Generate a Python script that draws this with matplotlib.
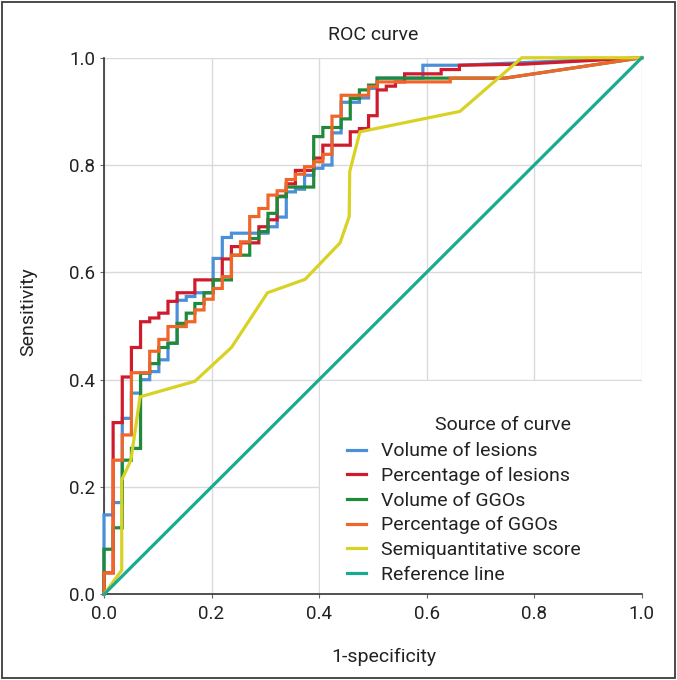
import matplotlib.pyplot as plt
from matplotlib.patches import Rectangle

plt.rcParams['font.family'] = ['Roboto', 'DejaVu Sans']

# ROC curve corner points (1-specificity, sensitivity)
vol_les_x = [0, 0, 0.017, 0.017, 0.034, 0.034, 0.051, 0.051, 0.068, 0.068, 0.085, 0.085,
             0.102, 0.102, 0.119, 0.119, 0.136, 0.136, 0.153, 0.153, 0.169, 0.169, 0.203, 0.203,
             0.220, 0.220, 0.237, 0.237, 0.305, 0.305, 0.322, 0.322, 0.339, 0.339, 0.356, 0.356,
             0.373, 0.373, 0.390, 0.390, 0.407, 0.407, 0.424, 0.424, 0.441, 0.441, 0.475, 0.475,
             0.492, 0.492, 0.508, 0.508, 0.593, 0.593, 0.661, 1.0]
vol_les_y = [0, 0.148, 0.148, 0.171, 0.171, 0.328, 0.328, 0.375, 0.375, 0.400, 0.400, 0.415,
             0.415, 0.437, 0.437, 0.468, 0.468, 0.548, 0.548, 0.555, 0.555, 0.562, 0.562, 0.626,
             0.626, 0.665, 0.665, 0.673, 0.673, 0.685, 0.685, 0.703, 0.703, 0.750, 0.750, 0.755,
             0.755, 0.781, 0.781, 0.794, 0.794, 0.800, 0.800, 0.860, 0.860, 0.917, 0.917, 0.925,
             0.925, 0.943, 0.943, 0.962, 0.962, 0.986, 0.986, 1.0]

pct_les_x = [0, 0, 0.017, 0.017, 0.034, 0.034, 0.051, 0.051, 0.068, 0.068, 0.085, 0.085,
             0.102, 0.102, 0.119, 0.119, 0.136, 0.136, 0.169, 0.169, 0.220, 0.220, 0.237, 0.237,
             0.254, 0.254, 0.288, 0.288, 0.305, 0.305, 0.322, 0.322, 0.339, 0.339, 0.356, 0.356,
             0.390, 0.390, 0.407, 0.407, 0.458, 0.458, 0.475, 0.475, 0.492, 0.492, 0.508, 0.508,
             0.525, 0.525, 0.542, 0.542, 0.559, 0.559, 0.627, 0.627, 0.661, 0.661, 0.780, 1.0]
pct_les_y = [0, 0.040, 0.040, 0.320, 0.320, 0.405, 0.405, 0.460, 0.460, 0.508, 0.508, 0.515,
             0.515, 0.524, 0.524, 0.546, 0.546, 0.562, 0.562, 0.586, 0.586, 0.625, 0.625, 0.648,
             0.648, 0.655, 0.655, 0.685, 0.685, 0.698, 0.698, 0.742, 0.742, 0.765, 0.765, 0.790,
             0.790, 0.813, 0.813, 0.837, 0.837, 0.862, 0.862, 0.868, 0.868, 0.892, 0.892, 0.940,
             0.940, 0.947, 0.947, 0.955, 0.955, 0.970, 0.970, 0.978, 0.978, 0.986, 0.988, 1.0]

vol_ggo_x = [0, 0, 0.017, 0.017, 0.034, 0.034, 0.051, 0.051, 0.068, 0.068, 0.085, 0.085,
             0.102, 0.102, 0.119, 0.119, 0.136, 0.136, 0.153, 0.153, 0.169, 0.169, 0.186, 0.186,
             0.203, 0.203, 0.237, 0.237, 0.271, 0.271, 0.288, 0.288, 0.305, 0.305, 0.322, 0.322,
             0.339, 0.339, 0.390, 0.390, 0.407, 0.407, 0.441, 0.441, 0.458, 0.458, 0.475, 0.475,
             0.492, 0.492, 0.508, 0.508, 0.746, 1.0]
vol_ggo_y = [0, 0.084, 0.084, 0.124, 0.124, 0.250, 0.250, 0.272, 0.272, 0.412, 0.412, 0.430,
             0.430, 0.460, 0.460, 0.468, 0.468, 0.505, 0.505, 0.524, 0.524, 0.542, 0.542, 0.562,
             0.562, 0.586, 0.586, 0.632, 0.632, 0.663, 0.663, 0.676, 0.676, 0.710, 0.710, 0.741,
             0.741, 0.759, 0.759, 0.853, 0.853, 0.870, 0.870, 0.886, 0.886, 0.924, 0.924, 0.940,
             0.940, 0.949, 0.949, 0.962, 0.962, 1.0]

pct_ggo_x = [0, 0, 0.017, 0.017, 0.034, 0.034, 0.051, 0.051, 0.085, 0.085, 0.102, 0.102,
             0.119, 0.119, 0.153, 0.153, 0.169, 0.169, 0.186, 0.186, 0.203, 0.203, 0.220, 0.220,
             0.237, 0.237, 0.254, 0.254, 0.271, 0.271, 0.288, 0.288, 0.305, 0.305, 0.322, 0.322,
             0.339, 0.339, 0.356, 0.356, 0.373, 0.373, 0.390, 0.390, 0.407, 0.407, 0.424, 0.424,
             0.441, 0.441, 0.492, 0.492, 0.508, 0.508, 0.644, 0.644, 0.746, 1.0]
pct_ggo_y = [0, 0.040, 0.040, 0.250, 0.250, 0.297, 0.297, 0.413, 0.413, 0.453, 0.453, 0.475,
             0.475, 0.499, 0.499, 0.508, 0.508, 0.530, 0.530, 0.550, 0.550, 0.570, 0.570, 0.592,
             0.592, 0.632, 0.632, 0.657, 0.657, 0.704, 0.704, 0.719, 0.719, 0.744, 0.744, 0.752,
             0.752, 0.773, 0.773, 0.783, 0.783, 0.797, 0.797, 0.806, 0.806, 0.820, 0.820, 0.891,
             0.891, 0.930, 0.930, 0.946, 0.946, 0.955, 0.955, 0.962, 0.962, 1.0]

semi_x = [0, 0.033, 0.033, 0.050, 0.067, 0.169, 0.237, 0.304, 0.374, 0.439, 0.456, 0.457,
          0.476, 0.662, 0.777, 1.0]
semi_y = [0, 0.045, 0.213, 0.250, 0.368, 0.397, 0.460, 0.562, 0.587, 0.655, 0.704, 0.788,
          0.862, 0.900, 1.0, 1.0]

ref_x = [0, 1]
ref_y = [0, 1]

series = [
    ("Volume of lesions", vol_les_x, vol_les_y, "#4a8fd8"),
    ("Percentage of lesions", pct_les_x, pct_les_y, "#cf1b2c"),
    ("Volume of GGOs", vol_ggo_x, vol_ggo_y, "#1e8a3a"),
    ("Percentage of GGOs", pct_ggo_x, pct_ggo_y, "#f0662a"),
    ("Semiquantitative score", semi_x, semi_y, "#d8d224"),
    ("Reference line", ref_x, ref_y, "#1aaa94"),
]

fig = plt.figure(figsize=(6.77, 6.8), dpi=100)
ax = fig.add_axes([0.1536, 0.126, 0.7943, 0.7891])

fig.add_artist(Rectangle((0.003, 0.003), 0.994, 0.994, transform=fig.transFigure,
                         fill=False, edgecolor="#3c3c3c", linewidth=1.3))

handles = []
for name, xs, ys, col in series:
    h, = ax.plot(xs, ys, color=col, lw=2.3, label=name, clip_on=False, zorder=3,
                 solid_joinstyle="miter")
    handles.append(h)

ax.set_xlim(0, 1)
ax.set_ylim(0, 1)
ticks = [0.0, 0.2, 0.4, 0.6, 0.8, 1.0]
ax.set_xticks(ticks)
ax.set_yticks(ticks)
ax.set_xticklabels(["%.1f" % t for t in ticks])
ax.set_yticklabels(["%.1f" % t for t in ticks])
ax.tick_params(labelsize=13.5, length=3, width=0.8, color="#666666", colors="#222222")
ax.tick_params(axis="x", pad=5)
ax.set_axisbelow(True)
ax.grid(True, color="#dadada", lw=1.0)

for s in ["top", "right"]:
    ax.spines[s].set_visible(False)
for s in ["left", "bottom"]:
    ax.spines[s].set_color("#333333")
    ax.spines[s].set_linewidth(1.2)

# white patch behind the legend
ax.add_patch(Rectangle((0.402, 0.0), 0.598, 0.397, transform=ax.transAxes,
                       facecolor="white", edgecolor="none", zorder=1))

ax.set_title("ROC curve", fontsize=14, color="#222222", pad=13)
ax.set_xlabel("1-specificity", fontsize=14, color="#222222")
ax.set_ylabel("Sensitivity", fontsize=14, color="#222222")
ax.xaxis.set_label_coords(0.521, -0.100)
ax.yaxis.set_label_coords(-0.124, 0.526)

ax.text(0.6156, 0.3155, "Source of curve", transform=ax.transAxes, fontsize=14,
        ha="left", va="center", color="#222222")
leg = ax.legend(handles=handles, loc="upper left", bbox_to_anchor=(0.452, 0.283),
                frameon=False, fontsize=14, handlelength=0.95, handletextpad=0.8,
                labelspacing=0.34, borderpad=0, borderaxespad=0)
for t in leg.get_texts():
    t.set_color("#222222")

fig.savefig("out.png", dpi=100)
